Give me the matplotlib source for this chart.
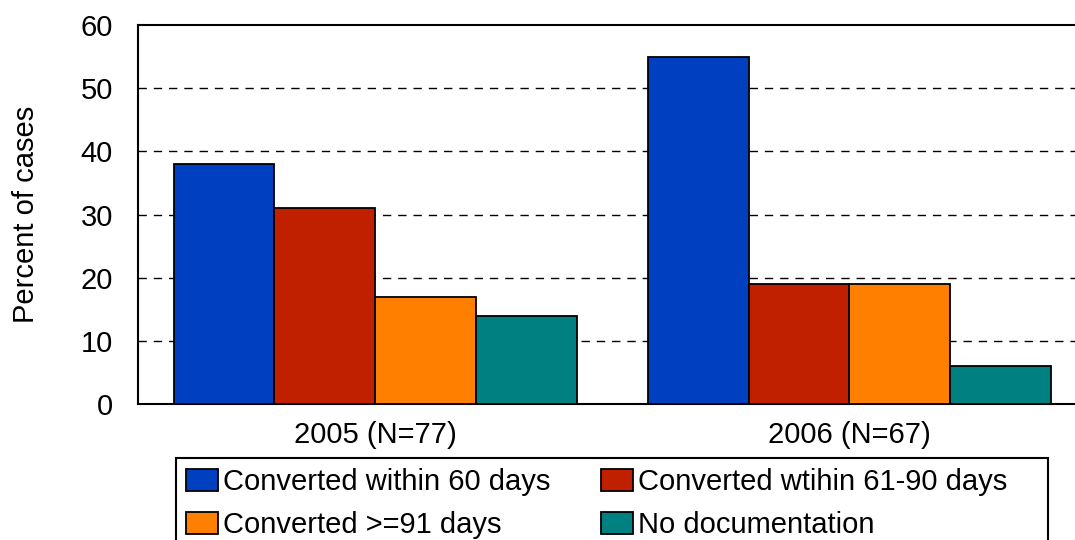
import matplotlib
matplotlib.use("Agg")
import matplotlib.pyplot as plt
from matplotlib.patches import Rectangle
import numpy as np

plt.rcParams['font.family'] = ['Liberation Sans', 'DejaVu Sans']

categories = ["2005 (N=77)", "2006 (N=67)"]
series_names = ["Converted within 60 days", "Converted wtihin 61-90 days",
                "Converted >=91 days", "No documentation"]
values = {
    "Converted within 60 days": [38, 55],
    "Converted wtihin 61-90 days": [31, 19],
    "Converted >=91 days": [17, 19],
    "No documentation": [14, 6],
}
colors = ["#0040C0", "#C02000", "#FF8000", "#008080"]
yticks = [0, 10, 20, 30, 40, 50, 60]

FS = 21
W, H = 1075, 540
fig = plt.figure(figsize=(W / 100, H / 100), dpi=100)
ax_left, ax_right, ax_top, ax_bot = 138, 1086.5, 25, 404
ax = fig.add_axes([ax_left / W, 1 - ax_bot / H, (ax_right - ax_left) / W, (ax_bot - ax_top) / H])

x = np.arange(len(categories))
bw = 0.2125
handles = []
for i, name in enumerate(series_names):
    b = ax.bar(x + (i - 1.5) * bw, values[name], bw, color=colors[i],
               edgecolor="black", linewidth=1.3, zorder=3, label=name)
    handles.append(b)

ax.set_xlim(-0.5, 1.5)
ax.set_ylim(0, 60)
ax.set_yticks(yticks)
ax.set_yticklabels([str(t) for t in yticks], fontsize=FS)
ax.set_xticks(x)
ax.set_xticklabels(categories, fontsize=FS)
ax.tick_params(axis='both', length=0)
ax.tick_params(axis='x', pad=12)
ax.tick_params(axis='y', pad=18)
for t in yticks[1:-1]:
    ax.axhline(t, color="black", linestyle=(0, (6, 5)), linewidth=1.0, zorder=1)
for s in ["left", "top", "bottom"]:
    ax.spines[s].set_linewidth(1.5)
    ax.spines[s].set_color("black")
ax.spines["right"].set_visible(False)
ax.set_ylabel("Percent of cases", fontsize=FS, labelpad=29)

order = [0, 2, 1, 3]
leg = fig.legend(handles=[handles[i] for i in order],
                 labels=[series_names[i] for i in order], ncol=2, fontsize=FS,
                 loc="upper left", bbox_to_anchor=(176 / W, 1 - 458 / H),
                 frameon=False, handlelength=1.1, handleheight=0.8,
                 handletextpad=0.15, columnspacing=1.75, borderpad=0.35,
                 labelspacing=0.5, borderaxespad=0)
fig.patches.append(Rectangle((176 / W, -0.05), (1048 - 176) / W, (1 - 458 / H) + 0.05,
                             transform=fig.transFigure, fill=False,
                             edgecolor="black", linewidth=1.5))

fig.savefig("out.png", dpi=100)
